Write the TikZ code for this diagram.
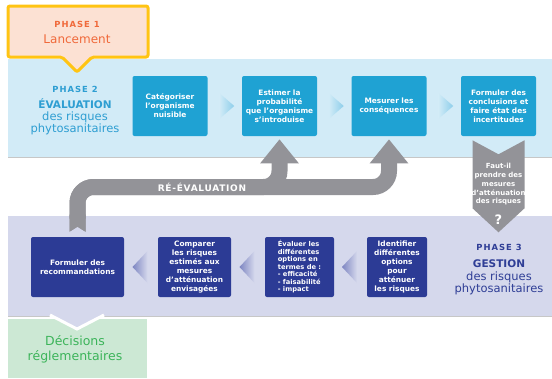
\documentclass[tikz,border=0pt]{standalone}
\usepackage{fontspec}
\setmainfont{DejaVu Sans}
\newfontfamily\phasesans[LetterSpace=12]{DejaVu Sans}
\newfontfamily\reevsans[LetterSpace=8]{DejaVu Sans}
\usepackage{xcolor}
\usetikzlibrary{positioning, arrows.meta, calc}

\definecolor{onefill}{HTML}{FCE1D3}
\definecolor{oneborder}{HTML}{FFC413}
\definecolor{onetext}{HTML}{F0693A}
\definecolor{twoband}{HTML}{D2EBF7}
\definecolor{twotext}{HTML}{2E9ED2}
\definecolor{boxblue}{HTML}{1FA2D3}
\definecolor{chevblue}{HTML}{8CCDEA}
\definecolor{threeband}{HTML}{D5D8EC}
\definecolor{threetext}{HTML}{2F3E96}
\definecolor{boxnavy}{HTML}{2C3B95}
\definecolor{chevnavy}{HTML}{7E86C2}
\definecolor{greyarr}{HTML}{939398}
\definecolor{decfill}{HTML}{CCE8D4}
\definecolor{dectext}{HTML}{3CB45A}

\begin{document}
\begin{tikzpicture}[x=1pt, y=-1pt, on grid, semithick,
    upbox/.style={fill=boxblue, rounded corners=2pt, text=white, align=center,
      font=\bfseries\fontsize{7.4}{9}\selectfont, minimum width=75pt,
      minimum height=60pt, inner sep=0pt},
    lowbox/.style={upbox, fill=boxnavy},
    phasehead/.style={font=\phasesans\bfseries\fontsize{8.4}{10}\selectfont, inner sep=0pt},
    phasetitle/.style={font=\bfseries\fontsize{10.5}{12}\selectfont, inner sep=0pt},
    phasesub/.style={font=\fontsize{11.5}{12}\selectfont, align=center, inner sep=0pt},
    asktext/.style={text=white, align=center, font=\bfseries\fontsize{7}{8.8}\selectfont, inner sep=0pt},
    reev/.style={draw=greyarr, line width=16pt, rounded corners=16pt,
      {Triangle Cap[reversed, length=5pt]}-{Triangle[width=37pt, length=24pt]},
      shorten <=5pt, shorten >=3pt},
    bandedge/.style={draw=black!22, line width=0.8pt}]

    \useasboundingbox (0,0) rectangle (552,378);

    \fill[twoband] (8,59) rectangle (552,157);
    \draw[bandedge] (8,157) -- (552,157);
    \fill[threeband] (8,216) rectangle (552,316);
    \draw[bandedge] (8,316) -- (552,316);
    \fill[decfill] (8,319) rectangle (147,378);
    \filldraw[draw=white, line width=3pt, fill=threeband] (50,315) -- (77,329) -- (104,315);

    \filldraw[draw=oneborder, fill=onefill, line width=3pt, rounded corners=2pt]
      (8,6) -- (148,6) -- (148,57) -- (92,57) -- (77,72) -- (62,57) -- (8,57) -- cycle;
    \node[phasehead, text=onetext] (p1) at (77,24) {PHASE 1};
    \node[phasesub, font=\fontsize{12}{14}\selectfont, text=onetext, below=15pt of p1] (launch) {Lancement};

    \node[phasehead, text=twotext] (p2) at (75,89) {PHASE 2};
    \node[phasetitle, text=twotext, below=15pt of p2] (p2title) {ÉVALUATION};
    \node[phasesub, text=twotext, below=19pt of p2title] (p2sub) {des risques\\phytosanitaires};

    \node[phasehead, text=threetext] (p3) at (499,247) {PHASE 3};
    \node[phasetitle, text=threetext, below=17pt of p3] (p3title) {GESTION};
    \node[phasesub, text=threetext, below=19pt of p3title] (p3sub) {des risques\\phytosanitaires};

    \node[phasesub, font=\fontsize{12.5}{15}\selectfont, text=dectext] (dec) at (75,349) {Décisions\\réglementaires};

    \node[upbox] (cat) at (170,106) {Catégoriser\\l’organisme\\nuisible};
    \node[upbox, right=109.5pt of cat] (estim) {Estimer la\\probabilité\\que l’organisme\\s’introduise};
    \node[upbox, right=109.5pt of estim] (mesur) {Mesurer les\\conséquences};
    \node[upbox, right=109.5pt of mesur] (concl) {Formuler des\\conclusions et\\faire état des\\incertitudes};

    \node[lowbox, minimum width=60pt] (ident) at (397,267) {Identifier\\différentes\\options\\pour\\atténuer\\les risques};
    \node[lowbox, minimum width=69pt, align=left, font=\bfseries\fontsize{6.7}{7.5}\selectfont,
      left=97.5pt of ident] (evalu) {Évaluer les\\différentes\\options en\\termes de :\\- efficacité\\- faisabilité\\- impact};
    \node[lowbox, minimum width=73pt, left=105pt of evalu] (compar) {Comparer\\les risques\\estimés aux\\mesures\\d’atténuation\\envisagées};
    \node[lowbox, minimum width=93pt, left=117pt of compar] (recom) {Formuler des\\recommandations};

    \foreach \a/\b in {cat/estim, estim/mesur, mesur/concl}
      \shade[left color=twoband, right color=chevblue]
        ($(\a.east)!.5!(\b.west)+(-5.5,-13)$) -- ++(15,13) -- ++(-15,13) -- cycle;
    \foreach \a/\b in {ident/evalu, evalu/compar, compar/recom}
      \shade[left color=chevnavy, right color=threeband]
        ($(\a.west)!.5!(\b.east)+(6.5,-16)$) -- ++(-15,16) -- ++(15,16) -- cycle;

    \fill[greyarr] ($(concl.south)+(-26,4)$) -- ++(26,14) -- ++(26,-14) -- ++(0,68)
      -- ++(-26,24) -- ++(-26,-24) -- cycle;
    \node[asktext] (ask) at ($(concl.south)+(0,48)$) {Faut-il\\prendre des\\mesures\\d’atténuation\\des risques};
    \node[asktext, font=\bfseries\fontsize{13}{14}\selectfont] (qmark) at ($(concl.south)+(0,83)$) {?};

    \coordinate (reevline) at (0,187);
    \draw[reev] (recom.north) |- (estim.south |- reevline) -- (estim.south);
    \draw[reev] (recom.north) |- (mesur.south |- reevline) -- (mesur.south);
    \node[text=white, font=\reevsans\bfseries\fontsize{9}{10}\selectfont] (reevtext) at (202,187) {RÉ-ÉVALUATION};
\end{tikzpicture}
\end{document}
